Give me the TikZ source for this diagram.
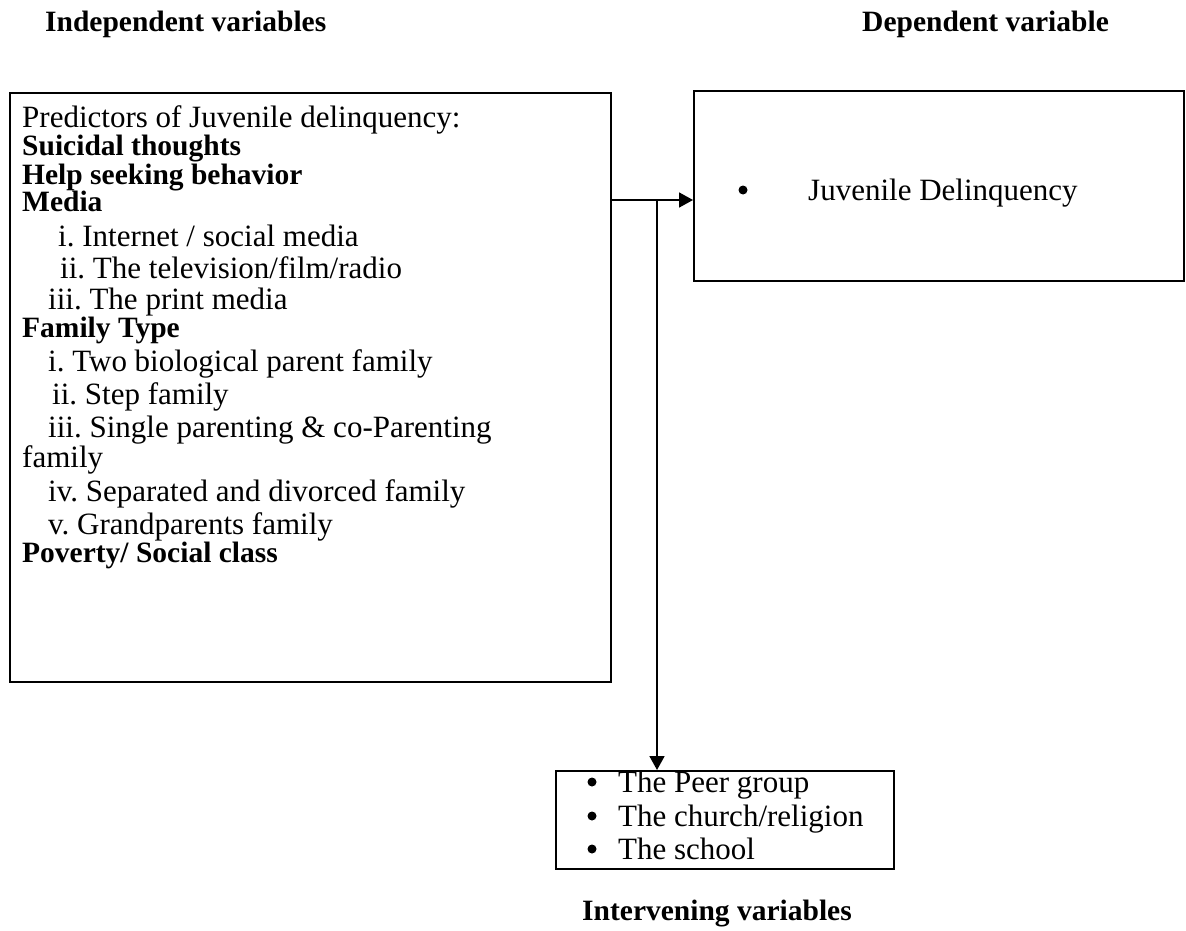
\documentclass[tikz,border=0pt]{standalone}
\usepackage{fontspec}
\setmainfont{Liberation Serif}
\usetikzlibrary{arrows.meta}
\frenchspacing
\begin{document}
\begin{tikzpicture}[x=1pt,y=-1pt,
  box/.style={draw,line width=1.8pt,inner sep=0pt},
  txt/.style={anchor=base west,inner sep=0pt,font=\fontsize{31}{36}\selectfont},
  btxt/.style={anchor=base west,inner sep=0pt,font=\fontsize{29.5}{36}\selectfont\bfseries},
  conn/.style={line width=1.8pt,-{Triangle[length=14pt,width=15pt]}},
  dot/.style={circle,fill,inner sep=0pt,minimum size=9pt}]
\useasboundingbox (0,0) rectangle (1186,931);
% headers
\node[btxt] (hInd) at (45,32) {Independent variables};
\node[btxt] (hDep) at (862,32) {Dependent variable};
\node[btxt] (hInt) at (582,920) {Intervening variables};
% boxes
\node[box,minimum width=601pt,minimum height=589pt,anchor=north west] (ind) at (9,92) {};
\node[box,minimum width=490pt,minimum height=190pt,anchor=north west] (dep) at (693,90) {};
\node[box,minimum width=338pt,minimum height=98pt,anchor=north west] (int) at (555,770) {};
% left box text
\node[txt]  (l1)  at (22,128) {Predictors of Juvenile delinquency:};
\node[btxt] (l2)  at (22,156) {Suicidal thoughts};
\node[btxt] (l3)  at (22,184) {Help seeking behavior};
\node[btxt] (l4)  at (22,211) {Media};
\node[txt]  (l5)  at (58,246) {i. Internet / social media};
\node[txt]  (l6)  at (60,278) {ii. The television/film/radio};
\node[txt]  (l7)  at (48,309) {iii. The print media};
\node[btxt] (l8)  at (22,337) {Family Type};
\node[txt]  (l9)  at (48,371) {i. Two biological parent family};
\node[txt]  (l10) at (52,404) {ii. Step family};
\node[txt]  (l11) at (48,437) {iii. Single parenting \& co-Parenting};
\node[txt]  (l12) at (22,467) {family};
\node[txt]  (l13) at (48,501) {iv. Separated and divorced family};
\node[txt]  (l14) at (48,534) {v. Grandparents family};
\node[btxt] (l15) at (22,562) {Poverty/ Social class};
% right box text
\node[dot] (d1) at (743,190) {};
\node[txt] (r1) at (808,200) {Juvenile Delinquency};
% bottom box text
\node[dot] (b1d) at (592,782) {};
\node[txt] (b1) at (618,792) {The Peer group};
\node[dot] (b2d) at (592,816) {};
\node[txt] (b2) at (618,826) {The church/religion};
\node[dot] (b3d) at (592,849) {};
\node[txt] (b3) at (618,859) {The school};
% connectors
\coordinate (j) at (657,200);
\draw[conn] (ind.east |- j) -- (dep.west |- j);
\draw[conn] (j) -- (j |- int.north);
\end{tikzpicture}
\end{document}
